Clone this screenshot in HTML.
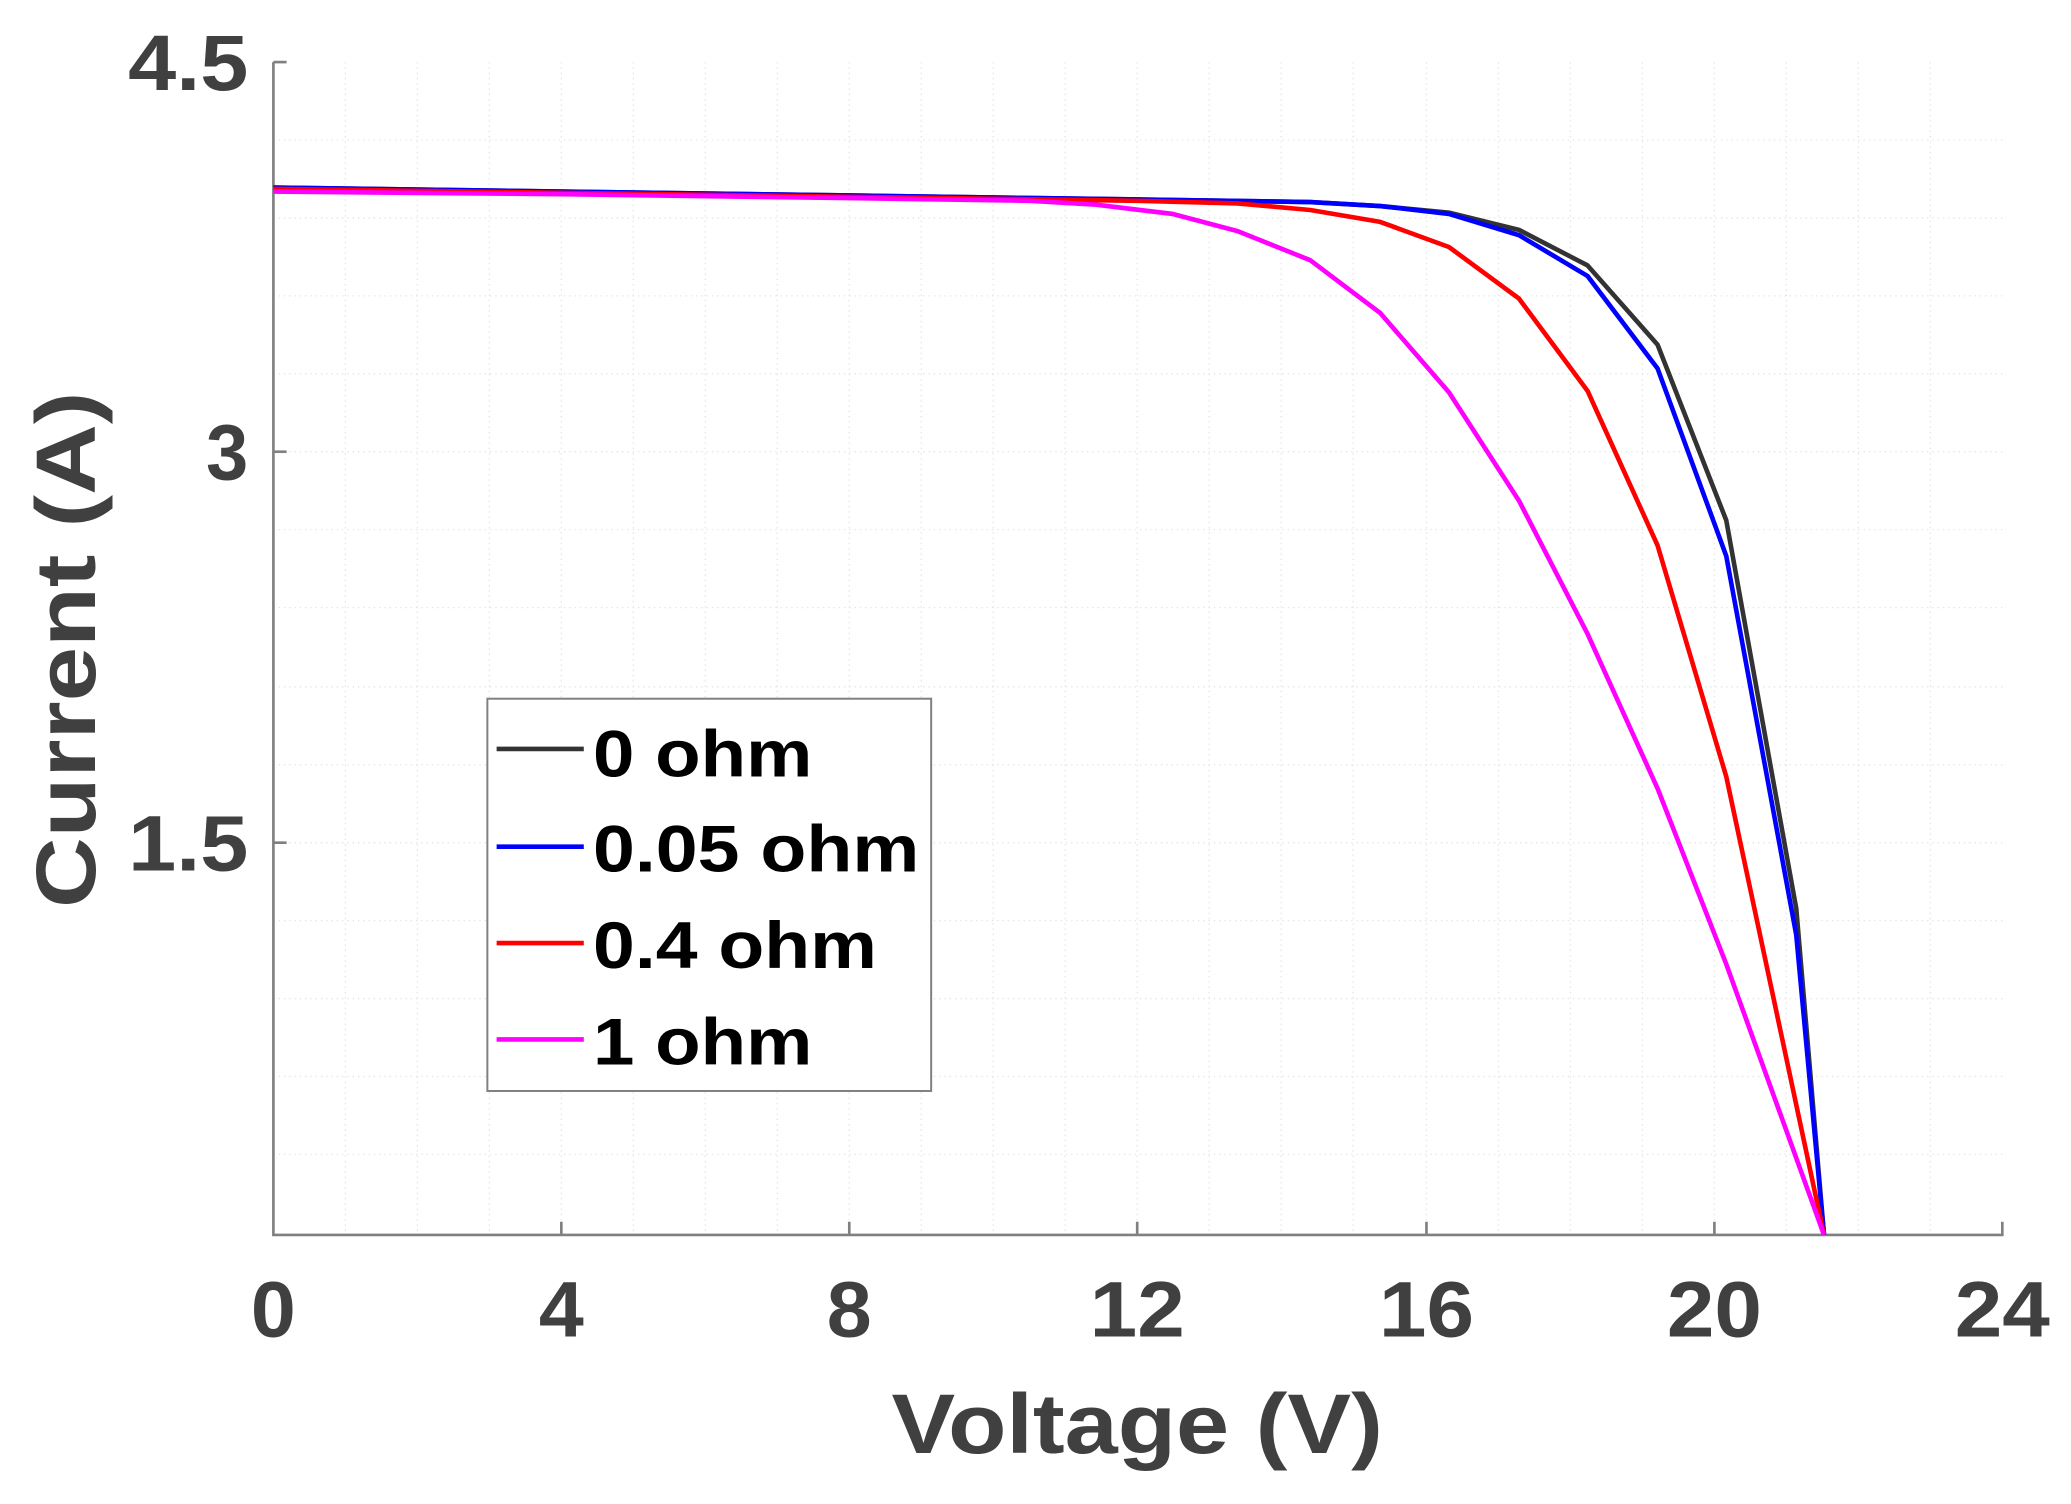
<!DOCTYPE html>
<html><head><meta charset="utf-8"><style>
html,body{margin:0;padding:0;background:#fff;}
svg{display:block;}
text{font-family:"Liberation Sans",Arial,sans-serif;font-weight:bold;}
</style></head><body>
<svg width="2071" height="1504" viewBox="0 0 1568 1138.7" preserveAspectRatio="none" xmlns="http://www.w3.org/2000/svg">
<rect width="1568" height="1139" fill="#fff"/>
<g stroke="#e4e4e4" stroke-width="1" stroke-dasharray="1,3">
<line x1="261.5" y1="47" x2="261.5" y2="935"/><line x1="316" y1="47" x2="316" y2="935"/><line x1="370.5" y1="47" x2="370.5" y2="935"/>
<line x1="425" y1="47" x2="425" y2="935"/><line x1="479.5" y1="47" x2="479.5" y2="935"/><line x1="534" y1="47" x2="534" y2="935"/><line x1="588.5" y1="47" x2="588.5" y2="935"/>
<line x1="643" y1="47" x2="643" y2="935"/><line x1="697.5" y1="47" x2="697.5" y2="935"/><line x1="752" y1="47" x2="752" y2="935"/><line x1="806.5" y1="47" x2="806.5" y2="935"/>
<line x1="861" y1="47" x2="861" y2="935"/><line x1="915.5" y1="47" x2="915.5" y2="935"/><line x1="970" y1="47" x2="970" y2="935"/><line x1="1024.5" y1="47" x2="1024.5" y2="935"/>
<line x1="1080" y1="47" x2="1080" y2="935"/><line x1="1134.5" y1="47" x2="1134.5" y2="935"/><line x1="1189" y1="47" x2="1189" y2="935"/><line x1="1243.5" y1="47" x2="1243.5" y2="935"/>
<line x1="1298" y1="47" x2="1298" y2="935"/><line x1="1352.5" y1="47" x2="1352.5" y2="935"/><line x1="1407" y1="47" x2="1407" y2="935"/><line x1="1461.5" y1="47" x2="1461.5" y2="935"/>
<line x1="207" y1="106" x2="1516" y2="106"/><line x1="207" y1="165" x2="1516" y2="165"/><line x1="207" y1="224" x2="1516" y2="224"/><line x1="207" y1="283" x2="1516" y2="283"/>
<line x1="207" y1="342" x2="1516" y2="342"/><line x1="207" y1="401" x2="1516" y2="401"/><line x1="207" y1="460" x2="1516" y2="460"/><line x1="207" y1="520" x2="1516" y2="520"/>
<line x1="207" y1="579" x2="1516" y2="579"/><line x1="207" y1="638" x2="1516" y2="638"/><line x1="207" y1="697" x2="1516" y2="697"/><line x1="207" y1="756" x2="1516" y2="756"/>
<line x1="207" y1="815" x2="1516" y2="815"/><line x1="207" y1="874" x2="1516" y2="874"/>
</g>
<g stroke="#808080" stroke-width="2" fill="none">
<polyline points="207,47 207,935 1516,935 1516,925"/>
<line x1="207" y1="47" x2="217" y2="47"/><line x1="207" y1="342" x2="217" y2="342"/><line x1="207" y1="638" x2="217" y2="638"/>
<line x1="425" y1="935" x2="425" y2="925"/><line x1="643" y1="935" x2="643" y2="925"/><line x1="861" y1="935" x2="861" y2="925"/>
<line x1="1080" y1="935" x2="1080" y2="925"/><line x1="1298" y1="935" x2="1298" y2="925"/>
</g>
<g fill="none" stroke-width="3.5" stroke-linejoin="round">
<polyline stroke="#333" points="207,142 425,145 643,148 861,151 992,153 1045,156 1097,161 1150,174 1202,201 1255,261 1307,394 1360,688 1381,935"/>
<polyline stroke="#0000ff" points="207,142 425,145 643,148 861,151 992,153 1045,156 1097,162 1150,178 1202,209 1255,279 1307,421 1360,708 1381,935"/>
<polyline stroke="#ff0000" points="207,143 425,146 643,149 861,152 937,154 992,159 1045,168 1097,187 1150,226 1202,296 1255,413 1307,588 1381,935"/>
<polyline stroke="#ff00ff" points="207,145 425,147 643,150 780,152 830,155 888,162 937,175 992,197 1045,237 1097,297 1150,379 1202,480 1255,597 1307,730 1381,935"/>
</g>
<g fill="#404040" font-size="60" text-anchor="end">
<text x="188" y="68" textLength="91" lengthAdjust="spacingAndGlyphs">4.5</text>
<text x="188" y="363" textLength="32" lengthAdjust="spacingAndGlyphs">3</text>
<text x="188" y="659" textLength="91" lengthAdjust="spacingAndGlyphs">1.5</text>
</g>
<g fill="#404040" font-size="60" text-anchor="middle">
<text x="207" y="1012" textLength="34" lengthAdjust="spacingAndGlyphs">0</text>
<text x="425" y="1012" textLength="34" lengthAdjust="spacingAndGlyphs">4</text>
<text x="643" y="1012" textLength="34" lengthAdjust="spacingAndGlyphs">8</text>
<text x="861" y="1012" textLength="72" lengthAdjust="spacingAndGlyphs">12</text>
<text x="1080" y="1012" textLength="72" lengthAdjust="spacingAndGlyphs">16</text>
<text x="1298" y="1012" textLength="72" lengthAdjust="spacingAndGlyphs">20</text>
<text x="1516" y="1012" textLength="72" lengthAdjust="spacingAndGlyphs">24</text>
<text x="861" y="1100" font-size="64" textLength="372" lengthAdjust="spacingAndGlyphs">Voltage (V)</text>
<text transform="translate(72,492) rotate(-90)" font-size="64" textLength="391" lengthAdjust="spacingAndGlyphs">Current (A)</text>
</g>
<rect x="369" y="529" width="336" height="297" fill="#fff" stroke="#808080" stroke-width="1.5"/>
<g stroke-width="3.5">
<line x1="376" y1="567" x2="442" y2="567" stroke="#333"/>
<line x1="376" y1="641" x2="442" y2="641" stroke="#0000ff"/>
<line x1="376" y1="714" x2="442" y2="714" stroke="#ff0000"/>
<line x1="376" y1="787" x2="442" y2="787" stroke="#ff00ff"/>
</g>
<g fill="#000" font-size="50">
<text x="449" y="588" textLength="166" lengthAdjust="spacingAndGlyphs">0 ohm</text>
<text x="449" y="660" textLength="247" lengthAdjust="spacingAndGlyphs">0.05 ohm</text>
<text x="449" y="733" textLength="215" lengthAdjust="spacingAndGlyphs">0.4 ohm</text>
<text x="449" y="806" textLength="166" lengthAdjust="spacingAndGlyphs">1 ohm</text>
</g>
</svg>
</body></html>
